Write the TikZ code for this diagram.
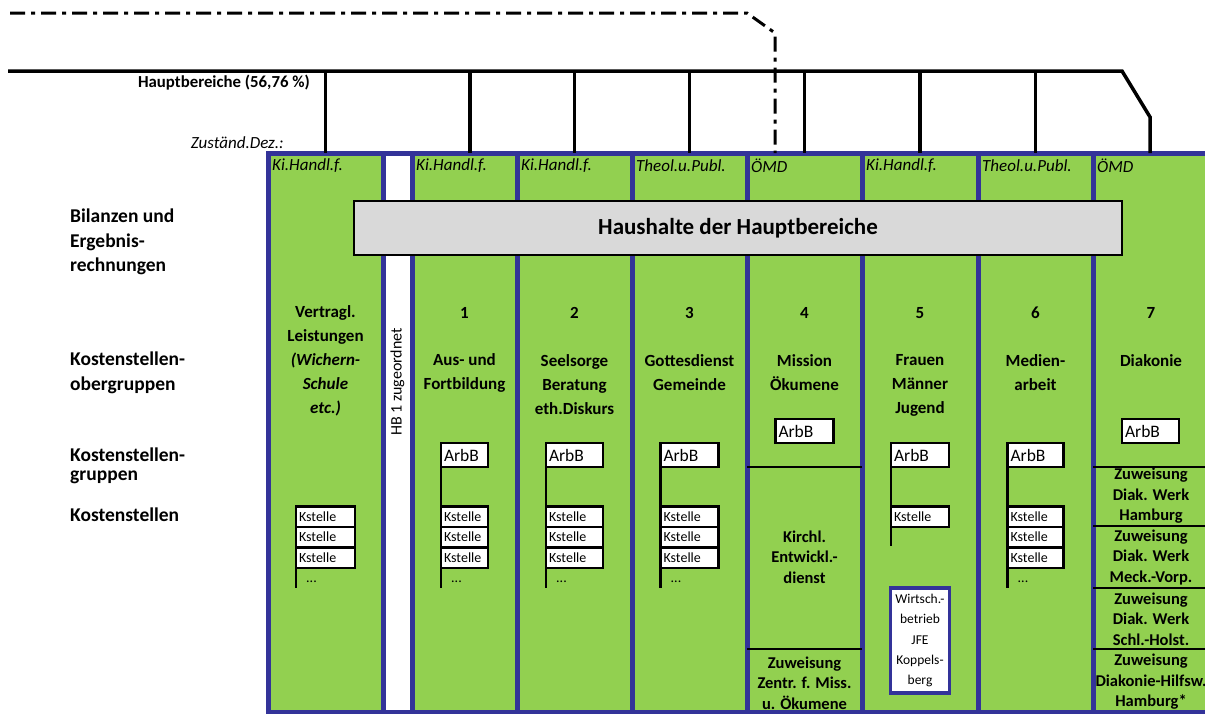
\documentclass[tikz,border=0pt]{standalone}
\usepackage{fontspec}
\setmainfont{Carlito}
\usetikzlibrary{positioning}
\definecolor{hbgreen}{HTML}{92D050}
\definecolor{hbblue}{HTML}{333399}
\definecolor{hbgray}{HTML}{D9D9D9}
\newcommand{\hbfont}[2]{\fontsize{#1}{#2}\selectfont}

\begin{document}
\begin{tikzpicture}[x=1pt,y=-1pt,node distance=20.5pt,
    column/.style={draw=hbblue,fill=hbgreen,line width=5pt,inner sep=0pt,outer sep=0pt,anchor=north west,minimum height=559pt},
    hbline/.style={line width=3.5pt},
    dezline/.style={line width=3pt,dash pattern=on 15pt off 6pt on 4pt off 6pt},
    dez/.style={anchor=west,inner sep=2pt,font=\itshape\hbfont{17}{20}},
    rowlabel/.style={anchor=west,inner sep=0pt,align=left,font=\bfseries\hbfont{19.5}{24.5}},
    hbnum/.style={font=\bfseries\hbfont{17}{20}},
    hbname/.style={align=center,font=\bfseries\hbfont{17}{24}},
    zuw/.style={align=center,inner sep=0pt,font=\bfseries\hbfont{16.5}{20.5}},
    abox/.style={draw,fill=white,line width=2.5pt,inner xsep=3pt,inner ysep=0pt,outer sep=0pt,minimum height=24pt,text width=#1,align=left,font=\hbfont{17.5}{20}},
    kbox/.style={draw,fill=white,line width=2.5pt,inner xsep=3pt,inner ysep=0pt,outer sep=0pt,minimum height=20.5pt,text width=#1,align=left,font=\hbfont{14}{16}},
    tree/.style={line width=2.5pt},
    sep/.style={line width=2pt},
    dots/.style={anchor=base west,inner sep=0pt,font=\hbfont{14}{16}}]

\useasboundingbox (0,0) rectangle (1205,713);

\node[column,minimum width=115pt]            (c0) at (268,153)  {};
\node[column,minimum width=29pt,fill=white]  (hb) at (383,153)  {};
\node[column,minimum width=105pt]            (c1) at (412,153)  {};
\node[column,minimum width=115pt]            (c2) at (517,153)  {};
\node[column,minimum width=115pt]            (c3) at (632,153)  {};
\node[column,minimum width=115pt]            (c4) at (747,153)  {};
\node[column,minimum width=116pt]            (c5) at (862,153)  {};
\node[column,minimum width=115pt]            (c6) at (978,153)  {};
\node[column,minimum width=120pt]            (c7) at (1093,153) {};

\node[draw,fill=hbgray,line width=2pt,minimum width=768pt,minimum height=54pt,font=\bfseries\hbfont{23}{26}] (hh) at (738,228) {Haushalte der Hauptbereiche};

\coordinate (hbl) at (8,71);
\coordinate (hbr) at (1122,71);
\coordinate (hbk) at (1150,117);
\coordinate (dzl) at (10,13);
\coordinate (dzr) at (747,13);
\coordinate (dzk) at (775,33);
\coordinate (c1d) at ([xshift=5.5pt]c1.north);

\draw[hbline] (hbl) -- (hbr) -- (hbk) -- (hbk |- c7.north);
\draw[dezline] (dzl) -- (dzr) -- (dzk) -- (dzk |- c4.north);
\draw[hbline] (c0.north |- hbl) -- (c0.north);
\draw[hbline] (c1d |- hbl)      -- (c1d);
\draw[hbline] (c2.north |- hbl) -- (c2.north);
\draw[hbline] (c3.north |- hbl) -- (c3.north);
\draw[hbline] (c4.north |- hbl) -- (c4.north);
\draw[hbline] (c5.north |- hbl) -- (c5.north);
\draw[hbline] (c6.north |- hbl) -- (c6.north);

\node[anchor=east,inner sep=0pt,font=\bfseries\hbfont{16.8}{19}] (hbt) at (310,83)  {Hauptbereiche (56,76 \%)};
\node[anchor=east,inner sep=0pt,font=\itshape\hbfont{17}{20}]    (zd)  at (284,143) {Zuständ.Dez.:};

\node[dez] (d0) at ([shift={(2pt,-13pt)}]c0.north west) {Ki.Handl.f.};
\node[dez] (d1) at ([shift={(2pt,-13pt)}]c1.north west) {Ki.Handl.f.};
\node[dez] (d2) at ([shift={(2pt,-13pt)}]c2.north west) {Ki.Handl.f.};
\node[dez] (d3) at ([shift={(2pt,-13pt)}]c3.north west) {Theol.u.Publ.};
\node[dez] (d4) at ([shift={(2pt,-13pt)}]c4.north west) {ÖMD};
\node[dez] (d5) at ([shift={(2pt,-13pt)}]c5.north west) {Ki.Handl.f.};
\node[dez] (d6) at ([shift={(2pt,-13pt)}]c6.north west) {Theol.u.Publ.};
\node[dez] (d7) at ([shift={(2pt,-13pt)}]c7.north west) {ÖMD};

\node[rowlabel] (bil) at (70,242) {Bilanzen und\\Ergebnis-\\rechnungen};
\node[rowlabel] (kog) at (70,373) {Kostenstellen-\\obergruppen};
\node[rowlabel,font=\bfseries\hbfont{19.5}{18.5}] (kgr) at (70,466) {Kostenstellen-\\gruppen};
\node[rowlabel] (kst) at (70,515) {Kostenstellen};

\node[rotate=90,font=\hbfont{16}{18}] (hbz) at (hb |- 0,382) {HB 1 zugeordnet};

\node[hbname] (l0) at (c0 |- 0,361) {Vertragl.\\Leistungen\\\textit{(Wichern-}\\\textit{Schule}\\\textit{etc.)}};
\node[hbnum]  (n1) at (c1 |- 0,313) {1};
\node[hbname] (l1) at (c1 |- 0,373) {Aus- und\\Fortbildung};
\node[hbnum]  (n2) at (c2 |- 0,313) {2};
\node[hbname] (l2) at (c2 |- 0,385) {Seelsorge\\Beratung\\eth.Diskurs};
\node[hbnum]  (n3) at (c3 |- 0,313) {3};
\node[hbname] (l3) at (c3 |- 0,373) {Gottesdienst\\Gemeinde};
\node[hbnum]  (n4) at (c4 |- 0,313) {4};
\node[hbname] (l4) at (c4 |- 0,373) {Mission\\Ökumene};
\node[hbnum]  (n5) at (c5 |- 0,313) {5};
\node[hbname] (l5) at (c5 |- 0,385) {Frauen\\Männer\\Jugend};
\node[hbnum]  (n6) at (c6 |- 0,313) {6};
\node[hbname] (l6) at (c6 |- 0,373) {Medien-\\arbeit};
\node[hbnum]  (n7) at (1151,313)    {7};
\node[hbname] (l7) at (1151,361)    {Diakonie};

\draw[sep] (c4.west |- 0,467) -- (c4.east |- 0,467);
\draw[sep] (c4.west |- 0,649) -- (c4.east |- 0,649);
\draw[sep] (c7.west |- 0,467) -- (c7.east |- 0,467);
\draw[sep] (c7.west |- 0,526) -- (c7.east |- 0,526);
\draw[sep] (c7.west |- 0,588) -- (c7.east |- 0,588);
\draw[sep] (c7.west |- 0,649) -- (c7.east |- 0,649);

\node[zuw] (k4)  at (c4 |- 0,557) {Kirchl.\\Entwickl.-\\dienst};
\node[zuw] (z4)  at (c4 |- 0,683) {Zuweisung\\Zentr. f. Miss.\\u. Ökumene};
\node[zuw] (z7a) at (1151,496)    {Zuweisung\\Diak. Werk\\Hamburg};
\node[zuw] (z7b) at (1151,557)    {Zuweisung\\Diak. Werk\\Meck.-Vorp.};
\node[zuw] (z7c) at (1151,619)    {Zuweisung\\Diak. Werk\\Schl.-Holst.};
\node[zuw] (z7d) at (1151,682)    {Zuweisung\\Diakonie-Hilfsw.\\Hamburg*};

\node[abox=41pt] (a1) at (c1 |- 0,455) {ArbB};
\node[abox=51pt] (a2) at (c2 |- 0,455) {ArbB};
\node[abox=52pt] (a3) at (c3 |- 0,455) {ArbB};
\node[abox=52pt] (a4) at (c4 |- 0,431) {ArbB};
\node[abox=52pt] (a5) at (c5 |- 0,455) {ArbB};
\node[abox=50pt] (a6) at (c6 |- 0,455) {ArbB};
\node[abox=51pt] (a7) at (1150.5,431)  {ArbB};

\node[kbox=53pt] (k0a) at (c0 |- 0,516.5) {Kstelle};
\node[kbox=53pt] (k0b) [below of=k0a]     {Kstelle};
\node[kbox=53pt] (k0c) [below of=k0b]     {Kstelle};
\node[kbox=41pt] (k1a) at (c1 |- 0,516.5) {Kstelle};
\node[kbox=41pt] (k1b) [below of=k1a]     {Kstelle};
\node[kbox=41pt] (k1c) [below of=k1b]     {Kstelle};
\node[kbox=51pt] (k2a) at (c2 |- 0,516.5) {Kstelle};
\node[kbox=51pt] (k2b) [below of=k2a]     {Kstelle};
\node[kbox=51pt] (k2c) [below of=k2b]     {Kstelle};
\node[kbox=52pt] (k3a) at (c3 |- 0,516.5) {Kstelle};
\node[kbox=52pt] (k3b) [below of=k3a]     {Kstelle};
\node[kbox=52pt] (k3c) [below of=k3b]     {Kstelle};
\node[kbox=52pt] (k5a) at (c5 |- 0,516.5) {Kstelle};
\node[kbox=50pt] (k6a) at (c6 |- 0,516.5) {Kstelle};
\node[kbox=50pt] (k6b) [below of=k6a]     {Kstelle};
\node[kbox=50pt] (k6c) [below of=k6b]     {Kstelle};

\coordinate (t0) at (k0a.west |- 0,588);
\coordinate (t1) at (a1.west |- 0,588);
\coordinate (t2) at (a2.west |- 0,588);
\coordinate (t3) at (a3.west |- 0,588);
\coordinate (t5) at (a5.west |- 0,546);
\coordinate (t6) at (a6.west |- 0,588);

\draw[tree] (k0a.north west) -- (t0);
\draw[tree] (a1.north west)  -- (t1);
\draw[tree] (a2.north west)  -- (t2);
\draw[tree] (a3.north west)  -- (t3);
\draw[tree] (a5.north west)  -- (t5);
\draw[tree] (a6.north west)  -- (t6);

\node[dots] (e0) at ([shift={(10pt,6pt)}]t0) {...};
\node[dots] (e1) at ([shift={(10pt,6pt)}]t1) {...};
\node[dots] (e2) at ([shift={(10pt,6pt)}]t2) {...};
\node[dots] (e3) at ([shift={(10pt,6pt)}]t3) {...};
\node[dots] (e6) at ([shift={(10pt,6pt)}]t6) {...};

\node[draw=hbblue,fill=white,line width=3.5pt,minimum width=59pt,minimum height=105pt,inner sep=0pt,align=center,font=\hbfont{13.5}{20.3}] (w5) at (c5 |- 0,640.5) {Wirtsch.-\\betrieb\\JFE\\Koppels-\\berg};

\end{tikzpicture}
\end{document}
